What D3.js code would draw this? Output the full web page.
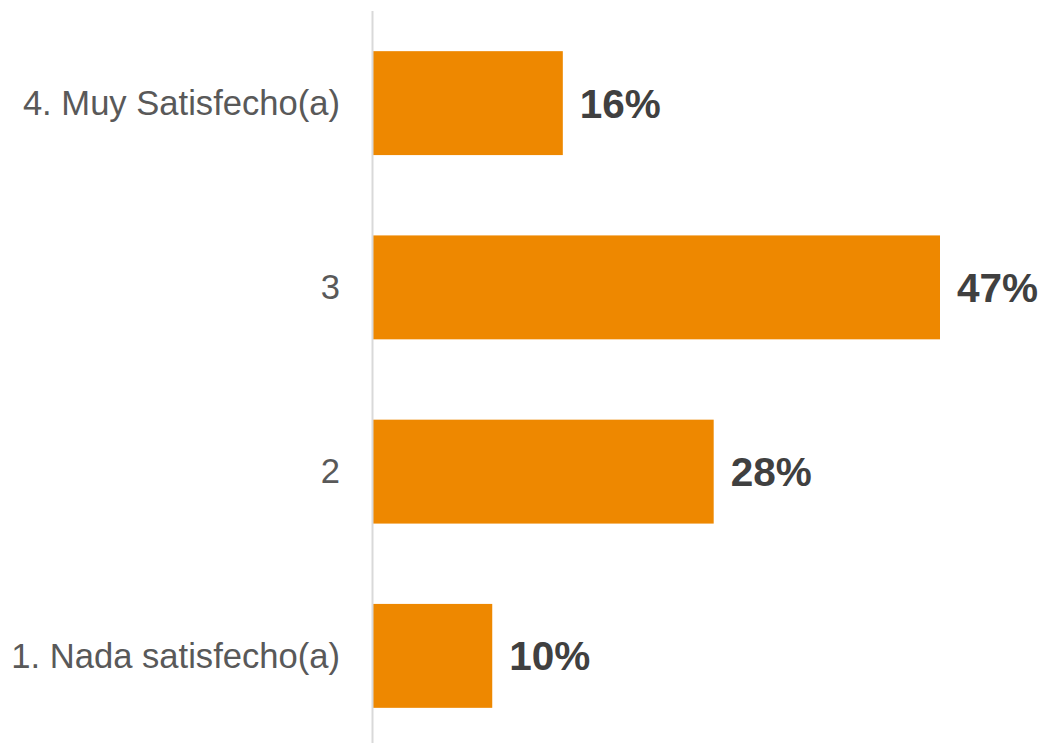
<!DOCTYPE html>
<html>
<head>
<meta charset="utf-8">
<script src="https://cdn.jsdelivr.net/npm/d3@7"></script>
<style>
  html, body { margin: 0; padding: 0; background: #ffffff; }
  svg { display: block; }
</style>
</head>
<body>
<svg id="chart" width="1045" height="743"></svg>
<script>
const categories = ["4. Muy Satisfecho(a)", "3", "2", "1. Nada satisfecho(a)"];
const values = [15.6, 46.6, 28.0, 9.8];
const valueLabels = ["16%", "47%", "28%", "10%"];

const W = 1045, H = 743;
const axisX = 372.5;
const svg = d3.select("#chart");

const x = d3.scaleLinear().domain([0, 46.6]).range([373, 940]);
const y = d3.scaleBand().domain(categories).range([11, 748]).paddingInner(0.436).paddingOuter(0.218);

const data = categories.map((c, i) => ({ c, v: values[i], l: valueLabels[i] }));

svg.selectAll("rect.bar").data(data).enter().append("rect")
  .attr("class", "bar")
  .attr("x", x(0))
  .attr("y", d => y(d.c))
  .attr("width", d => x(d.v) - x(0))
  .attr("height", y.bandwidth())
  .attr("fill", "#EE8800");

svg.append("line")
  .attr("x1", axisX).attr("x2", axisX)
  .attr("y1", 11).attr("y2", H)
  .attr("stroke", "#d9d9d9").attr("stroke-width", 2);

svg.selectAll("text.cat").data(data).enter().append("text")
  .attr("class", "cat")
  .attr("x", 340)
  .attr("y", d => y(d.c) + y.bandwidth() / 2)
  .attr("dy", "0.34em")
  .attr("text-anchor", "end")
  .attr("font-family", "'Liberation Sans', Arial, sans-serif")
  .attr("font-size", 34.6)
  .attr("fill", "#595959")
  .text(d => d.c);

svg.selectAll("text.val").data(data).enter().append("text")
  .attr("class", "val")
  .attr("x", d => x(d.v) + 17)
  .attr("y", d => y(d.c) + y.bandwidth() / 2)
  .attr("dy", "0.36em")
  .attr("font-family", "'Liberation Sans', Arial, sans-serif")
  .attr("font-size", 40.5)
  .attr("font-weight", "bold")
  .attr("fill", "#404040")
  .text(d => d.l);
</script>
</body>
</html>
